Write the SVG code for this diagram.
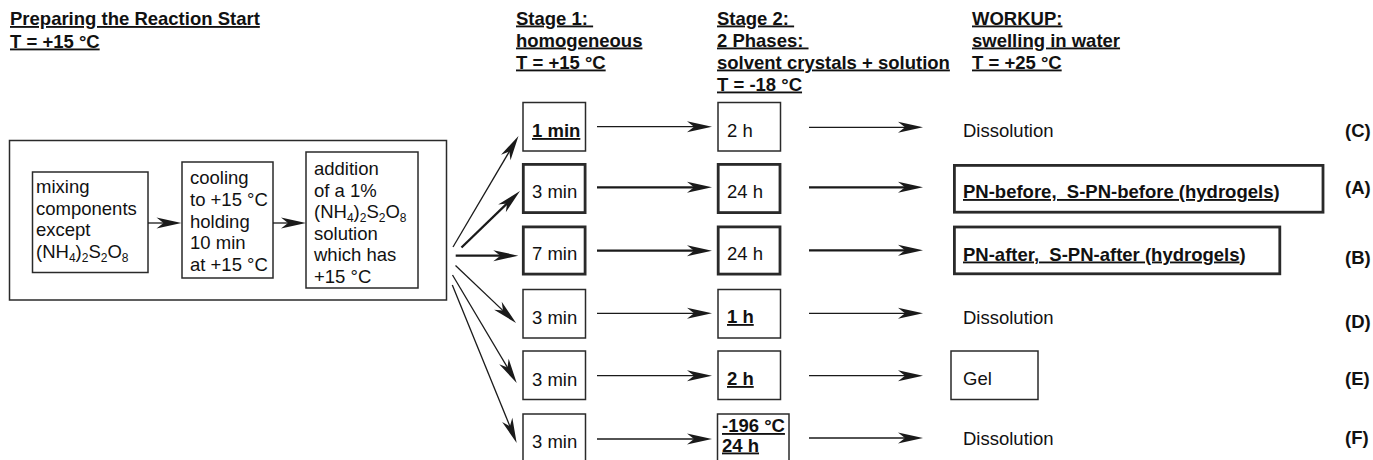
<svg xmlns="http://www.w3.org/2000/svg" width="1373" height="460" viewBox="0 0 1373 460">
<style>
.t{font-family:"Liberation Sans",Arial,sans-serif;font-size:18.5px;fill:#111}
.b{font-weight:bold}
.u{text-decoration:underline}
.s{font-size:12px}
.box{fill:none;stroke:#2a2a2a;stroke-width:1.5}
.tk{fill:none;stroke:#2a2a2a;stroke-width:2.8}
.ln{fill:none;stroke:#1a1a1a;stroke-width:1.3;marker-end:url(#ah)}
.lt{fill:none;stroke:#1a1a1a;stroke-width:2.3;marker-end:url(#ah)}
</style>
<defs>
<marker id="ah" markerUnits="userSpaceOnUse" viewBox="-16 -6 27 12" refX="0" refY="0" markerWidth="27" markerHeight="12" orient="auto" overflow="visible">
<path d="M10,0 L-15,-5.5 L-8,0 L-15,5.5 Z" fill="#1a1a1a"/>
</marker>
</defs>

<g id="headers">
<text class="t b u" x="10" y="25">Preparing the Reaction Start</text>
<text class="t b u" x="10" y="47.5">T = +15 °C</text>
<text class="t b u" x="516" y="24.5" xml:space="preserve">Stage 1: </text>
<text class="t b u" x="516" y="46.5">homogeneous</text>
<text class="t b u" x="516" y="68.5">T = +15 °C</text>
<text class="t b u" x="717" y="24.5" xml:space="preserve">Stage 2: </text>
<text class="t b u" x="717" y="46.5" xml:space="preserve">2 Phases: </text>
<text class="t b u" x="717" y="68.5">solvent crystals + solution</text>
<text class="t b u" x="717" y="90.5">T = -18 °C</text>
<text class="t b u" x="972" y="24.5">WORKUP:</text>
<text class="t b u" x="972" y="46.5">swelling in water</text>
<text class="t b u" x="972" y="68.5">T = +25 °C</text>
</g>

<g id="prep">
<rect class="box" x="9.5" y="140.5" width="437" height="159.5"/>
</g>
<g id="mixing">
<rect class="box" x="32.5" y="172" width="115.5" height="100.5"/>
<text class="t" x="36" y="193">mixing</text>
<text class="t" x="36" y="214.5">components</text>
<text class="t" x="36" y="236">except</text>
<text class="t" x="36" y="257.5">(NH<tspan class="s" dy="4">4</tspan><tspan dy="-4">)</tspan><tspan class="s" dy="4">2</tspan><tspan dy="-4">S</tspan><tspan class="s" dy="4">2</tspan><tspan dy="-4">O</tspan><tspan class="s" dy="4">8</tspan></text>
</g>
<g id="cooling">
<rect class="box" x="182" y="162" width="91" height="116"/>
<text class="t" x="190" y="184">cooling</text>
<text class="t" x="190" y="205.75">to +15 °C</text>
<text class="t" x="190" y="227.5">holding</text>
<text class="t" x="190" y="249.25">10 min</text>
<text class="t" x="190" y="271">at +15 °C</text>
</g>
<g id="addition">
<rect class="box" x="306" y="152" width="112" height="136"/>
<text class="t" x="314" y="175">addition</text>
<text class="t" x="314" y="196.5">of a 1%</text>
<text class="t" x="314" y="218">(NH<tspan class="s" dy="4">4</tspan><tspan dy="-4">)</tspan><tspan class="s" dy="4">2</tspan><tspan dy="-4">S</tspan><tspan class="s" dy="4">2</tspan><tspan dy="-4">O</tspan><tspan class="s" dy="4">8</tspan></text>
<text class="t" x="314" y="239.5">solution</text>
<text class="t" x="314" y="261">which has</text>
<text class="t" x="314" y="282.5">+15 °C</text>
</g>

<g id="s1C"><rect class="box" x="523" y="102.5" width="62.5" height="48.5"/><text class="t b u" x="532" y="137">1 min</text></g>
<g id="s1A"><rect class="tk" x="523.3" y="164.4" width="61.8" height="48.2"/><text class="t" x="532" y="198">3 min</text></g>
<g id="s1B"><rect class="tk" x="523.3" y="226.9" width="61.8" height="47.2"/><text class="t" x="532" y="260">7 min</text></g>
<g id="s1D"><rect class="box" x="523" y="289.5" width="62.5" height="48.5"/><text class="t" x="532" y="324">3 min</text></g>
<g id="s1E"><rect class="box" x="523" y="351" width="62.5" height="48.5"/><text class="t" x="532" y="385.5">3 min</text></g>
<g id="s1F"><rect class="box" x="523" y="414" width="62.5" height="50"/><text class="t" x="532" y="448">3 min</text></g>

<g id="s2C"><rect class="box" x="718" y="102.5" width="62.5" height="48.5"/><text class="t" x="727" y="137">2 h</text></g>
<g id="s2A"><rect class="tk" x="718.2" y="164.4" width="61.8" height="48.2"/><text class="t" x="727" y="198">24 h</text></g>
<g id="s2B"><rect class="tk" x="718.2" y="226.9" width="61.8" height="47.2"/><text class="t" x="727" y="260">24 h</text></g>
<g id="s2D"><rect class="box" x="718" y="289.5" width="62.5" height="48.5"/><text class="t b u" x="727" y="323">1 h</text></g>
<g id="s2E"><rect class="box" x="718" y="351" width="62.5" height="48.5"/><text class="t b u" x="727" y="385">2 h</text></g>
<g id="s2F"><rect class="box" x="717.5" y="414" width="71.5" height="50"/><text class="t b u" x="722" y="432">-196 °C</text><text class="t b u" x="722" y="451.5">24 h</text></g>

<g id="wC"><text class="t" x="963" y="137">Dissolution</text></g>
<g id="wA"><rect class="tk" x="954.4" y="165.4" width="368.6" height="46.8"/><text class="t b" x="963" y="198" xml:space="preserve"><tspan class="u">PN-before,  S-PN-before (hydrogels</tspan>)</text></g>
<g id="wB"><rect class="tk" x="954.4" y="227" width="325.4" height="46.8"/><text class="t b" x="963" y="260.5" xml:space="preserve"><tspan class="u">PN-after,  S-PN-after (hydrogels</tspan>)</text></g>
<g id="wD"><text class="t" x="963" y="324">Dissolution</text></g>
<g id="wE"><rect class="box" x="951" y="351" width="87" height="48.5"/><text class="t" x="963" y="385">Gel</text></g>
<g id="wF"><text class="t" x="963" y="445">Dissolution</text></g>

<g id="labels">
<text class="t b" x="1345" y="137">(C)</text>
<text class="t b" x="1345" y="194">(A)</text>
<text class="t b" x="1345" y="264">(B)</text>
<text class="t b" x="1345" y="328">(D)</text>
<text class="t b" x="1345" y="385">(E)</text>
<text class="t b" x="1345" y="444">(F)</text>
</g>

<g id="connectors">
<line class="ln" x1="148" y1="223" x2="171.5" y2="223"/>
<line class="ln" x1="273" y1="223" x2="296" y2="223"/>
<line class="ln" x1="453" y1="247" x2="513.4" y2="144.6"/>
<line class="lt" x1="461.5" y1="247.5" x2="512.8" y2="198"/>
<line class="lt" x1="455.7" y1="255.7" x2="508.3" y2="255.7"/>
<line class="ln" x1="455.5" y1="265.5" x2="508.8" y2="316.1"/>
<line class="ln" x1="452.5" y1="275" x2="511.6" y2="374.4"/>
<line class="ln" x1="452.3" y1="285" x2="512.9" y2="433.7"/>
<line class="ln" x1="597" y1="126.7" x2="702" y2="126.7"/>
<line class="lt" x1="597" y1="187.3" x2="702" y2="187.3"/>
<line class="lt" x1="597" y1="250.7" x2="702" y2="250.7"/>
<line class="ln" x1="597" y1="313.3" x2="702" y2="313.3"/>
<line class="ln" x1="597" y1="375.7" x2="702" y2="375.7"/>
<line class="ln" x1="597" y1="439" x2="702" y2="439"/>
<line class="ln" x1="809" y1="127.3" x2="913" y2="127.3"/>
<line class="lt" x1="809" y1="187.3" x2="913" y2="187.3"/>
<line class="lt" x1="809" y1="250.3" x2="913" y2="250.3"/>
<line class="ln" x1="809" y1="313.3" x2="913" y2="313.3"/>
<line class="ln" x1="809" y1="375.7" x2="913" y2="375.7"/>
<line class="ln" x1="809" y1="438" x2="913" y2="438"/>
</g>
</svg>
